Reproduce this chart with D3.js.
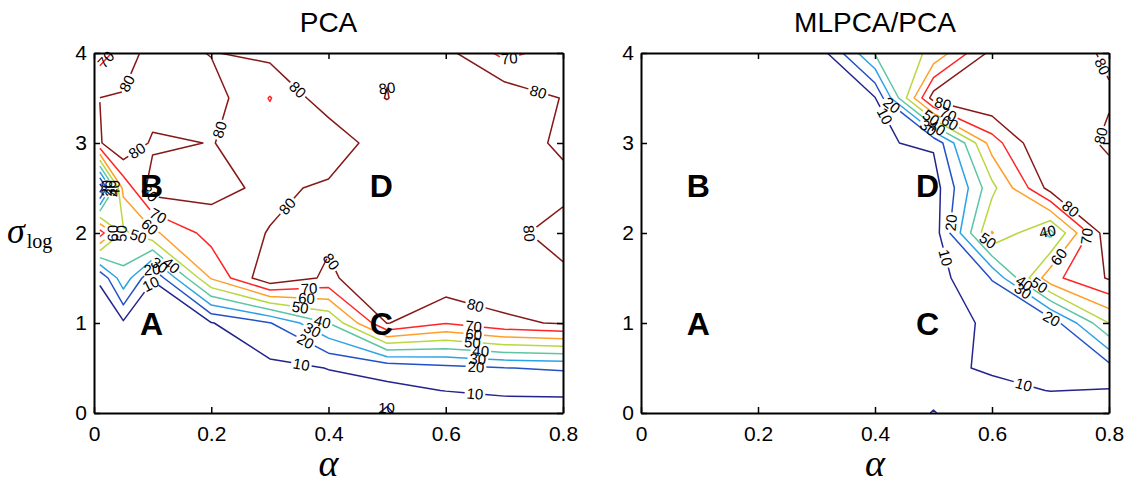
<!DOCTYPE html>
<html>
<head>
<meta charset="utf-8">
<script src="https://cdn.jsdelivr.net/npm/d3@7"></script>
<style>
  html, body { margin: 0; padding: 0; background: #fff; }
  svg { display: block; }
</style>
</head>
<body>
<svg id="chart" width="1134" height="486"></svg>
<script>
// ---- grid coordinates -------------------------------------------------
const alphaGrid = [0.01, 0.05, 0.1, 0.2, 0.3, 0.4, 0.5, 0.6, 0.7, 0.8];
const sigmaGrid = [0, 0.25, 0.5, 1, 1.5, 2, 2.5, 3, 3.5, 4];
const contourLevels = [10, 20, 30, 40, 50, 60, 70, 80];
const levelColors = ["#24248f", "#2251c8", "#2ba2e6", "#5cc6a4", "#b9d73f", "#ff9f2a", "#ff2525", "#861818"];

// ---- values: one row per sigma (bottom to top), one column per alpha ----
const pcaValues = [
  [1,    1,    2,    2,    3,     5,    10.8, 3,    4,    4],
  [2,    2,    3,    4,    5,     7.5,  8,    10.2, 12,   12.5],
  [3,    3,    4,    6,    7.6,   10.2, 13,   17,   19.8, 21],
  [5,    8.5,  6,    9.5,  19.5,  40,   80.5, 70.5, 78,   81],
  [11,   37,   10.3, 61,   88.25, 78,   89,   87,   87,   84],
  [75,   48,   58,   74,   80.5,  82,   90,   90,   85,   73],
  [3,    63,   85,   83.5, 77.4,  82,   90,   90,   88,   85],
  [79,   90,   78.2, 80.3, 76,    72,   87.4, 90,   88.5, 77],
  [80.1, 81,   85.7, 84.5, 69.5,  86.2, 79.7, 89,   87.3, 79.5],
  [66,   74,   84.7, 79.5, 83,    88,   81,   83,   67,   75]
];

const ratioValues = [
  [1, 1, 1, 1, 2, 5,    10.3, 5,    4,    3],
  [1, 1, 1, 1, 2, 4,    8,    8,    10.2, 9.5],
  [1, 1, 1, 1, 2, 4,    8.2,  11,   12,   16],
  [1, 1, 1, 2, 2, 4,    5,    12,   14,   50],
  [1, 1, 1, 2, 3, 4,    5.5,  20.5, 67,   81],
  [1, 1, 1, 2, 3, 4,    4.4,  60.5, 37,   88],
  [1, 1, 1, 2, 3, 4,    5,    47,   84,   88],
  [1, 1, 2, 2, 3, 9,    11.4, 65,   93,   77],
  [1, 1, 2, 2, 3, 9.5,  85,   90,   90,   81.5],
  [1, 1, 2, 2, 3, 41,   52,   83,   88,   77.75]
];

// ---- axes ---------------------------------------------------------------
const xTicks = [0, 0.2, 0.4, 0.6, 0.8];
const xTickLabels = ["0", "0.2", "0.4", "0.6", "0.8"];
const yTicks = [0, 1, 2, 3, 4];
const yTickLabels = ["0", "1", "2", "3", "4"];
const panelTitles = ["PCA", "MLPCA/PCA"];
const regionLetters = ["A", "B", "C", "D"];
const letterAlpha = [0.098, 0.098, 0.49, 0.49];
const letterSigma = [0.99, 2.53, 1.0, 2.53];

const panels = [
  { title: panelTitles[0], values: pcaValues,   range: [94, 563] },
  { title: panelTitles[1], values: ratioValues, range: [641, 1109] }
];
const yRange = [413, 53];

const svg = d3.select("#chart");
const sansFont = '"Liberation Sans", Arial, Helvetica, sans-serif';
const serifFont = '"Liberation Serif", "Times New Roman", serif';
const labelSize = 15;

const levelColor = d3.scaleOrdinal().domain(contourLevels).range(levelColors);

const idxAlpha = d3.scaleLinear().domain(d3.range(alphaGrid.length)).range(alphaGrid);
const idxSigma = d3.scaleLinear().domain(d3.range(sigmaGrid.length)).range(sigmaGrid);

// Marching squares on the value grid: straight segments in each cell,
// saddles resolved with the cell-centre mean; segments chained into lines.
function isolines(values, level) {
  const nx = values[0].length, ny = values.length;
  const pos = new Map();
  const segs = [];
  const nodeSegs = new Map();
  const edge = (type, i, j) => {
    const id = `${type}${i}_${j}`;
    if (!pos.has(id)) {
      if (type === "h") {
        const a = values[j][i], b = values[j][i + 1];
        pos.set(id, [i + (level - a) / (b - a), j]);
      } else {
        const a = values[j][i], b = values[j + 1][i];
        pos.set(id, [i, j + (level - a) / (b - a)]);
      }
    }
    return id;
  };
  const link = (a, b) => {
    const s = segs.length;
    segs.push([a, b]);
    [a, b].forEach(n => {
      if (!nodeSegs.has(n)) nodeSegs.set(n, []);
      nodeSegs.get(n).push(s);
    });
  };
  for (let j = 0; j < ny - 1; j++) {
    for (let i = 0; i < nx - 1; i++) {
      const vbl = values[j][i], vbr = values[j][i + 1], vtl = values[j + 1][i], vtr = values[j + 1][i + 1];
      const bl = vbl >= level, br = vbr >= level, tl = vtl >= level, tr = vtr >= level;
      const E = {};
      if (bl !== br) E.b = edge("h", i, j);
      if (tl !== tr) E.t = edge("h", i, j + 1);
      if (bl !== tl) E.l = edge("v", i, j);
      if (br !== tr) E.r = edge("v", i + 1, j);
      const keys = Object.keys(E);
      if (keys.length === 2) link(E[keys[0]], E[keys[1]]);
      else if (keys.length === 4) {
        const centre = (vbl + vbr + vtl + vtr) / 4 >= level;
        if (centre === bl) { link(E.b, E.r); link(E.t, E.l); }
        else { link(E.b, E.l); link(E.r, E.t); }
      }
    }
  }
  const used = new Uint8Array(segs.length);
  const trace = start => {
    const path = [start];
    let node = start;
    for (;;) {
      const next = nodeSegs.get(node).find(s => !used[s]);
      if (next === undefined) break;
      used[next] = 1;
      node = segs[next][0] === node ? segs[next][1] : segs[next][0];
      path.push(node);
    }
    return path;
  };
  const lines = [];
  nodeSegs.forEach((list, node) => {
    if (list.length === 1 && !used[list[0]]) lines.push({ closed: false, nodes: trace(node) });
  });
  for (let s = 0; s < segs.length; s++) {
    if (!used[s]) {
      const path = trace(segs[s][0]);
      path.pop();
      lines.push({ closed: true, nodes: path });
    }
  }
  return lines.map(l => ({
    level, closed: l.closed,
    points: l.nodes.map(n => { const p = pos.get(n); return [idxAlpha(p[0]), idxSigma(p[1])]; })
  }));
}

const measureCtx = document.createElement("canvas").getContext("2d");
measureCtx.font = `${labelSize}px ${sansFont}`;

function pointAt(pts, cum, s) {
  let i = d3.bisectRight(cum, s) - 1;
  i = Math.max(0, Math.min(pts.length - 2, i));
  const seg = (cum[i + 1] - cum[i]) || 1;
  const t = (s - cum[i]) / seg;
  return [pts[i][0] + t * (pts[i + 1][0] - pts[i][0]), pts[i][1] + t * (pts[i + 1][1] - pts[i][1])];
}
function subLine(pts, cum, s0, s1) {
  const res = [pointAt(pts, cum, s0)];
  for (let i = 0; i < pts.length; i++) if (cum[i] > s0 && cum[i] < s1) res.push(pts[i]);
  res.push(pointAt(pts, cum, s1));
  return res;
}

const lineGen = d3.line();

function drawContour(gLines, gLabels, ln) {
  const pts = ln.closed ? ln.pts.concat([ln.pts[0]]) : ln.pts;
  const cum = [0];
  for (let i = 1; i < pts.length; i++)
    cum.push(cum[i - 1] + Math.hypot(pts[i][0] - pts[i - 1][0], pts[i][1] - pts[i - 1][1]));
  const L = cum[cum.length - 1];
  const text = String(ln.level);
  const w = measureCtx.measureText(text).width + 4;
  const labels = [], gaps = [];
  if (L >= 16) {
    if (L < w + 8) labels.push(L / 2);
    else {
      const n = Math.max(1, Math.round(L / 170));
      for (let i = 0; i < n; i++) {
        const s = L * (i + 0.5) / n;
        labels.push(s);
        gaps.push([s - w / 2, s + w / 2]);
      }
    }
  }
  const pieces = [];
  let a = 0;
  gaps.forEach(([g0, g1]) => { if (g0 > a) pieces.push([a, g0]); a = g1; });
  if (a < L) pieces.push([a, L]);
  pieces.forEach(([s0, s1]) => {
    gLines.append("path")
      .attr("d", lineGen(subLine(pts, cum, s0, s1)))
      .attr("fill", "none")
      .attr("stroke", levelColor(ln.level))
      .attr("stroke-width", 1.5)
      .attr("stroke-linejoin", "round");
  });
  labels.forEach(s => {
    const p = pointAt(pts, cum, s);
    const p0 = pointAt(pts, cum, Math.max(0, s - w / 2));
    const p1 = pointAt(pts, cum, Math.min(L, s + w / 2));
    let ang = Math.atan2(p1[1] - p0[1], p1[0] - p0[0]) * 180 / Math.PI;
    if (ang > 90) ang -= 180;
    if (ang < -90) ang += 180;
    gLabels.append("text")
      .attr("transform", `translate(${p[0]},${p[1]}) rotate(${ang})`)
      .attr("text-anchor", "middle")
      .attr("dominant-baseline", "central")
      .attr("font-family", sansFont)
      .attr("font-size", labelSize)
      .attr("fill", "#000")
      .text(text);
  });
}

panels.forEach((p, pi) => {
  const x = d3.scaleLinear().domain([0, 0.8]).range(p.range);
  const y = d3.scaleLinear().domain([0, 4]).range(yRange);
  const g = svg.append("g");

  const clipId = `clip${pi}`;
  g.append("clipPath").attr("id", clipId).append("rect")
    .attr("x", p.range[0]).attr("y", yRange[1])
    .attr("width", p.range[1] - p.range[0]).attr("height", yRange[0] - yRange[1]);

  const gLines = g.append("g").attr("clip-path", `url(#${clipId})`);
  const gLabels = g.append("g");

  contourLevels.forEach(level => {
    isolines(p.values, level)
      .map(l => ({ level, closed: l.closed, pts: l.points.map(d => [x(d[0]), y(d[1])]) }))
      .forEach(l => drawContour(gLines, gLabels, l));
  });

  // region letters
  g.selectAll("text.region").data(regionLetters).join("text")
    .attr("class", "region")
    .attr("x", (d, i) => x(letterAlpha[i]))
    .attr("y", (d, i) => y(letterSigma[i]) + 11.5)
    .attr("text-anchor", "middle")
    .attr("font-family", sansFont)
    .attr("font-weight", "bold")
    .attr("font-size", 32)
    .attr("fill", "#000")
    .text(d => d);

  // axes: inward ticks on all four sides, labels on bottom and left
  const styleAxis = sel => {
    sel.select(".domain").attr("stroke", "#000").attr("stroke-width", 2);
    sel.selectAll(".tick line").attr("stroke", "#000").attr("stroke-width", 1.5);
    sel.selectAll(".tick text").attr("font-family", sansFont).attr("font-size", 21).attr("fill", "#000");
  };
  g.append("g").attr("transform", `translate(0,${yRange[0]})`)
    .call(d3.axisBottom(x).tickValues(xTicks).tickFormat((d, i) => xTickLabels[i])
      .tickSize(-6).tickSizeOuter(0).tickPadding(13))
    .call(styleAxis);
  g.append("g").attr("transform", `translate(0,${yRange[1]})`)
    .call(d3.axisTop(x).tickValues(xTicks).tickFormat("").tickSize(-6).tickSizeOuter(0))
    .call(styleAxis);
  g.append("g").attr("transform", `translate(${p.range[0]},0)`)
    .call(d3.axisLeft(y).tickValues(yTicks).tickFormat((d, i) => yTickLabels[i])
      .tickSize(-6).tickSizeOuter(0).tickPadding(7))
    .call(styleAxis);
  g.append("g").attr("transform", `translate(${p.range[1]},0)`)
    .call(d3.axisRight(y).tickValues(yTicks).tickFormat("").tickSize(-6).tickSizeOuter(0))
    .call(styleAxis);

  // title and x label
  const cx = (p.range[0] + p.range[1]) / 2;
  g.append("text")
    .attr("x", cx).attr("y", 32)
    .attr("text-anchor", "middle")
    .attr("font-family", sansFont).attr("font-size", 28).attr("fill", "#000")
    .text(p.title);
  g.append("text")
    .attr("x", cx).attr("y", 476)
    .attr("text-anchor", "middle")
    .attr("font-family", serifFont).attr("font-style", "italic")
    .attr("font-size", 38).attr("fill", "#000")
    .text("α");
});

// y label: sigma with subscript "log"
const yl = svg.append("text")
  .attr("x", 7).attr("y", 243)
  .attr("font-family", serifFont).attr("fill", "#000");
yl.append("tspan").attr("font-style", "italic").attr("font-size", 36).text("σ");
yl.append("tspan").attr("font-size", 20).attr("dy", 5).attr("dx", 2).text("log");
</script>
</body>
</html>
